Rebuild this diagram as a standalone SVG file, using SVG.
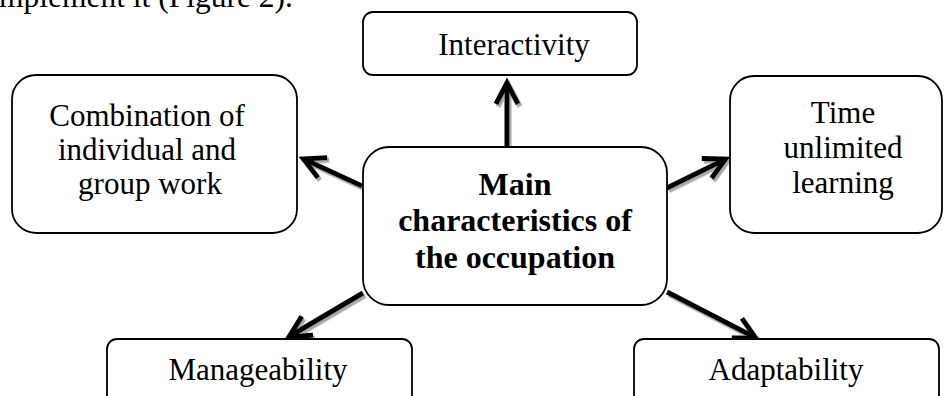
<svg xmlns="http://www.w3.org/2000/svg" width="944" height="396" viewBox="0 0 944 396">
<style>
text{font-family:"Liberation Serif","Times New Roman",serif;fill:#000;text-anchor:middle;font-size:31px}
.bold{font-weight:bold;font-size:32px}
.box{fill:#fff;stroke:#000;stroke-width:1.8}
.conn{fill:none;stroke:#000;stroke-width:5;marker-end:url(#ah)}
</style>
<defs>
<filter id="sh" x="-20%" y="-20%" width="140%" height="140%">
<feDropShadow dx="2" dy="2.5" stdDeviation="0.5" flood-color="#a8a8a8" flood-opacity="1"/>
</filter>
<marker id="ah" markerUnits="userSpaceOnUse" markerWidth="40" markerHeight="40" refX="24" refY="13" orient="auto" overflow="visible">
<path d="M3,2 L24,13 L3,24" fill="none" stroke="#000" stroke-width="5" stroke-linejoin="miter"/>
</marker>
</defs>
<text x="-1" y="7" style="text-anchor:start;font-size:31.5px">mplement it (Figure 2).</text>
<g id="connectors" filter="url(#sh)">
<path class="conn" d="M507,146 L507,83"/>
<path class="conn" d="M362,186 L303.5,159"/>
<path class="conn" d="M667,188 L725.5,159.2"/>
<path class="conn" d="M363,293 L289.3,336.5"/>
<path class="conn" d="M667,292 L755.5,337.8"/>
</g>
<g id="interactivity">
<rect class="box" x="363" y="12" width="274" height="63" rx="10"/>
<text x="514" y="55">Interactivity</text>
</g>
<g id="combination">
<rect class="box" x="12" y="75" width="285" height="158" rx="24"/>
<text x="147" y="126">Combination of</text>
<text x="147" y="160">individual and</text>
<text x="150" y="194">group work</text>
</g>
<g id="time">
<rect class="box" x="730" y="76" width="212" height="157" rx="24"/>
<text x="843" y="123">Time</text>
<text x="843" y="158">unlimited</text>
<text x="843" y="193">learning</text>
</g>
<g id="main">
<rect class="box" x="363" y="147" width="304" height="158" rx="26"/>
<text class="bold" x="515" y="195">Main</text>
<text class="bold" x="515" y="231">characteristics of</text>
<text class="bold" x="515" y="268">the occupation</text>
</g>
<g id="manageability">
<rect class="box" x="107" y="339" width="305" height="80" rx="10"/>
<text x="258" y="380">Manageability</text>
</g>
<g id="adaptability">
<rect class="box" x="634" y="339" width="305" height="80" rx="10"/>
<text x="786" y="380">Adaptability</text>
</g>
</svg>
